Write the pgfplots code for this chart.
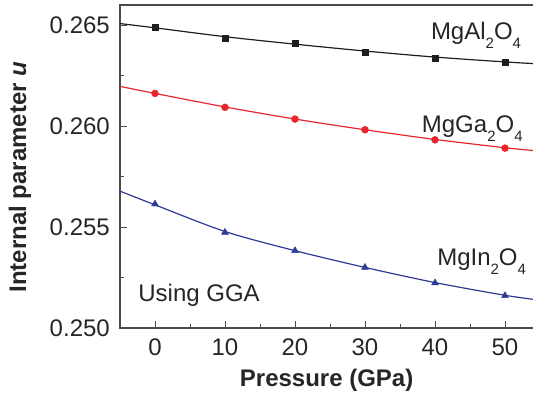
\documentclass[border=0pt]{standalone}
\usepackage{pgfplots}
\pgfplotsset{compat=1.18}
\usepackage{fontspec}
\setmainfont{Liberation Sans}
\definecolor{cblk}{HTML}{1E1E1E}
\definecolor{cred}{HTML}{E8262B}
\definecolor{cblue}{HTML}{2E3A96}
\definecolor{cspine}{HTML}{4A4A4A}
\newcommand\sub[1]{\raisebox{-9pt}{\fontsize{15}{15}\selectfont #1}}
\begin{document}
\begin{tikzpicture}[x=1pt,y=1pt]
\useasboundingbox (0,0) rectangle (533,396);
\begin{axis}[
  at={(120pt,68pt)}, anchor=south west,
  width=420pt, height=323pt, scale only axis,
  xmin=-5, xmax=55, ymin=0.250, ymax=0.266,
  xtick={0,10,20,30,40,50}, minor x tick num=1,
  ytick={0.250,0.255,0.260,0.265}, minor y tick num=1,
  tick align=inside, xtick pos=bottom, ytick pos=left,
  major tick length=7pt, minor tick length=4pt,
  tick style={color=cspine, line width=1pt},
  axis line style={color=cspine, line width=1.5pt},
  scaled y ticks=false,
  /pgf/number format/assume math mode=true,
  ticklabel style={font=\fontsize{24}{28}\selectfont, text=black!85, inner sep=0pt},
  yticklabel style={/pgf/number format/fixed, /pgf/number format/fixed zerofill, /pgf/number format/precision=3, xshift=-10pt},
  xticklabel style={yshift=-10.5pt},
  xlabel={Pressure (GPa)},
  ylabel={Internal parameter \textit{u}},
  label style={font=\bfseries\fontsize{24}{28}\selectfont, text=black!85},
  xlabel style={at={(axis description cs:0.492,0)}, anchor=center, yshift=-52pt},
  ylabel style={at={(axis description cs:-0.238,0.467)}, anchor=center},
  clip=true,
]
% fitted curves
\addplot[cblk, line width=1.2pt, smooth, no marks] coordinates {
 (-5,0.26508) (0,0.26487) (10,0.26443) (20,0.26406) (30,0.26372) (40,0.26342) (50,0.26318) (55,0.26308)};
\addplot[cred, line width=1.2pt, smooth, no marks] coordinates {
 (-5,0.26197) (0,0.26162) (10,0.26095) (20,0.26035) (30,0.25982) (40,0.25934) (50,0.25893) (55,0.25876)};
\addplot[cblue, line width=1.2pt, smooth, no marks] coordinates {
 (-5,0.25678) (0,0.25610) (10,0.25478) (20,0.25383) (30,0.25300) (40,0.25225) (50,0.25162) (55,0.25138)};
% data points
\addplot[only marks, mark=square*, mark size=3pt, color=cblk] coordinates {
 (0,0.26490) (10,0.26437) (20,0.26409) (30,0.26368) (40,0.26338) (50,0.26318)};
\addplot[only marks, mark=*, mark size=3.5pt, color=cred] coordinates {
 (0,0.26162) (10,0.26093) (20,0.26035) (30,0.25982) (40,0.25932) (50,0.25891)};
\addplot[only marks, mark=triangle*, mark size=4pt, color=cblue] coordinates {
 (0,0.25614) (10,0.25474) (20,0.25383) (30,0.25300) (40,0.25223) (50,0.25160)};
% labels
\node[anchor=base west, inner sep=0pt, font=\fontsize{24}{28}\selectfont, text=black!85] at (axis cs:39.4,0.26431) {MgAl\sub{2}O\sub{4}};
\node[anchor=base west, inner sep=0pt, font=\fontsize{24}{28}\selectfont, text=black!85] at (axis cs:38.1,0.25970) {MgGa\sub{2}O\sub{4}};
\node[anchor=base west, inner sep=0pt, font=\fontsize{24}{28}\selectfont, text=black!85] at (axis cs:40.3,0.25312) {MgIn\sub{2}O\sub{4}};
\node[anchor=base west, inner sep=0pt, font=\fontsize{24}{28}\selectfont, text=black!85] at (axis cs:-2.4,0.25129) {Using GGA};
\end{axis}
\end{tikzpicture}
\end{document}
